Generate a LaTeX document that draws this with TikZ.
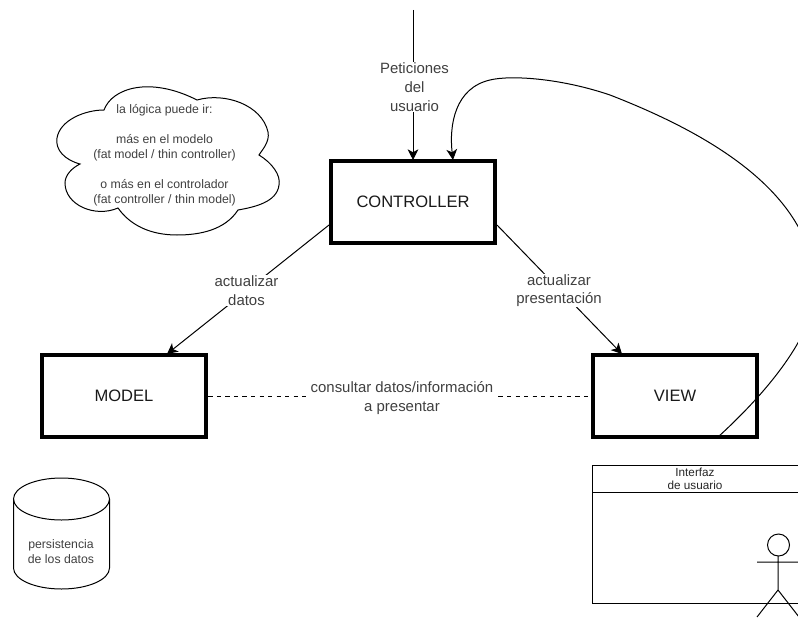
\documentclass[tikz,border=0pt]{standalone}
\usepackage{fontspec}
\setmainfont{Liberation Sans}
\usetikzlibrary{arrows.meta}
\tikzset{
  x=0.75pt,y=-0.75pt,
  mainbox/.style={draw=black,line width=3pt,fill=white,inner sep=0pt,font=\fontsize{12.4pt}{15pt}\selectfont,text=black!90},
  thin line/.style={draw=black,line width=0.75pt},
  arrowline/.style={thin line,-{Stealth[length=8pt,width=8pt,inset=2.2pt]}},
  lab/.style={fill=white,inner sep=0.5pt,align=center,font=\fontsize{11.2pt}{14pt}\selectfont,text=black!75},
  small/.style={align=center,font=\fontsize{9.2pt}{11.25pt}\selectfont,text=black!75,inner sep=0pt},
  tiny/.style={align=center,font=\fontsize{8.8pt}{10pt}\selectfont,text=black!85,inner sep=0pt},
}
\begin{document}
\begin{tikzpicture}
\useasboundingbox (0,0) rectangle (798,617);
\clip (0,0) rectangle (798,617);
% boxes
\node[mainbox,minimum width=123.5pt,minimum height=62pt] (ctrl) at (413,202) {CONTROLLER};
\node[mainbox,minimum width=123.5pt,minimum height=62pt] (model) at (124,396) {MODEL\hspace{3pt}};
\node[mainbox,minimum width=123.5pt,minimum height=62pt] (view) at (675,396) {VIEW\hspace{2pt}};
% named end points
\coordinate (top) at (413,10);
\coordinate (ctrlIn) at (413,160);
\coordinate (ctrlBack) at (453,160);
\coordinate (viewOut) at (718,437);
\coordinate (ctrlL) at (329,225);
\coordinate (modelT) at (167,354);
\coordinate (ctrlR) at (497,225);
\coordinate (viewT) at (622,354);
% connectors
\draw[arrowline] (top) -- (ctrlIn);
\node[lab] (lPet) at (414.5,87) {Peticiones\\del\\usuario};
\draw[arrowline] (ctrlL) -- (modelT);
\node[lab] (lAct) at (246.5,290.5) {actualizar\\datos};
\draw[arrowline] (ctrlR) -- (viewT);
\node[lab] (lPres) at (559,290.5) {actualizar\\presentación};
\draw[thin line,dash pattern=on 3.2pt off 3.2pt] (model.east) -- (view.west);
\node[lab] (lCons) at (402,398) {consultar datos/información\\a presentar};
% return curve
\draw[arrowline] (viewOut) .. controls (775,385) and (815,330) .. (815,290)
   .. controls (815,190) and (700,130) .. (610,95)
   .. controls (560,78) and (510,75) .. (490,80)
   .. controls (455,88) and (449,125) .. (ctrlBack);
% cloud
\draw[thin line,fill=white] (104,110)
  .. controls (112,88) and (150,76) .. (197,100)
  .. controls (225,92) and (262,105) .. (268,132)
  .. controls (270,142) and (262,150) .. (259,155)
  .. controls (272,163) and (281,175) .. (279,185)
  .. controls (277,202) and (255,207) .. (238,210)
  .. controls (225,230) and (200,235) .. (177,235)
  .. controls (150,235) and (130,225) .. (118,208)
  .. controls (95,218) and (65,205) .. (65,183)
  .. controls (65,175) and (72,168) .. (80,164)
  .. controls (65,160) and (55,150) .. (57,138)
  .. controls (60,120) and (85,110) .. (104,110) -- cycle;
\node[small] (cloudtxt) at (164.5,155) {la lógica puede ir:\\[11.25pt]más en el modelo\\(fat model / thin controller)\\[11.25pt]o más en el controlador\\(fat controller / thin model)};
% cylinder
\draw[thin line] (13.5,499) -- (13.5,568) arc[start angle=180,end angle=0,x radius=48,y radius=21] -- (109.5,499);
\draw[thin line] (61.5,499) ellipse[x radius=48,y radius=21];
\node[small] (cyl) at (61,552) {persistencia\\de los datos};
% window
\draw[thin line] (592,465) rectangle (820,603);
\draw[thin line] (592,492.5) -- (798,492.5);
\node[tiny] (win) at (695,478.5) {Interfaz\\de usuario};
% actor
\draw[thin line,fill=white] (778.5,545) circle[radius=11];
\draw[thin line] (778,556) -- (778,590) (757,562) -- (800,562) (757,617) -- (778,590) -- (799,617);
\end{tikzpicture}
\end{document}
